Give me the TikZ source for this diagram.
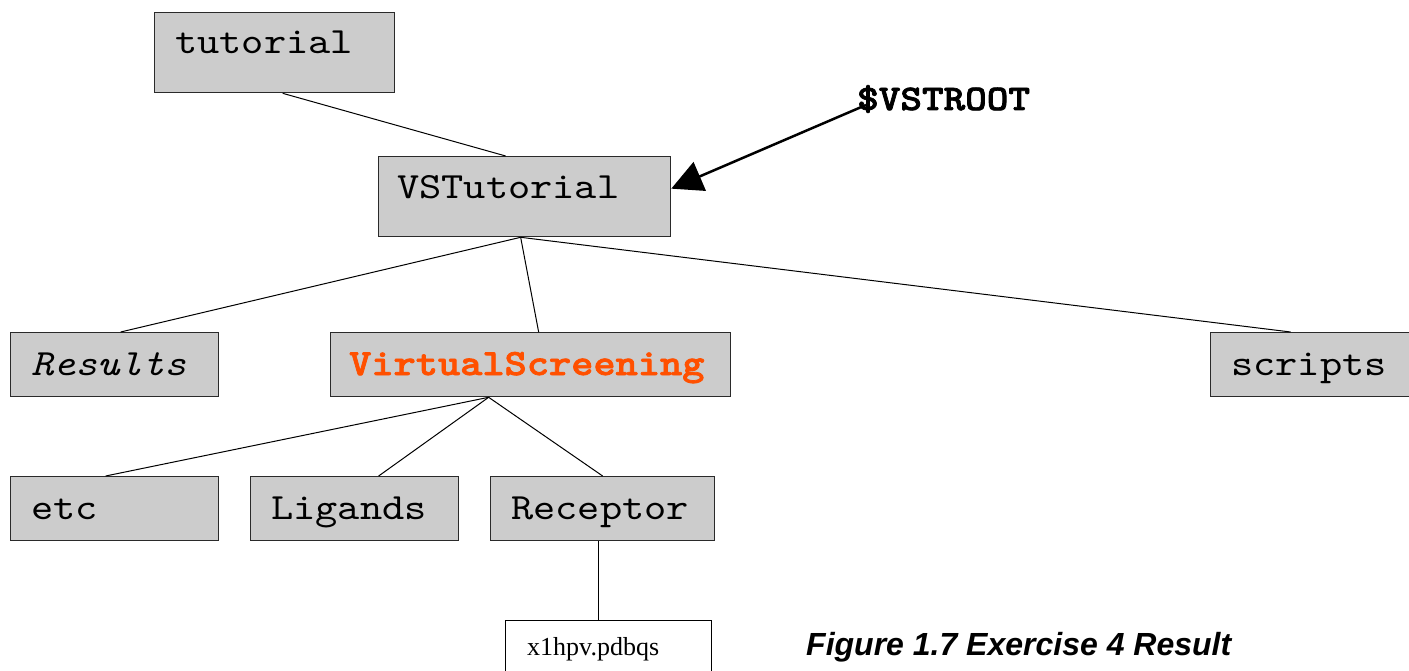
\documentclass[tikz,border=0pt]{standalone}
\usepackage{fontspec}
\setmainfont{Liberation Serif}
\newfontfamily\dirfont{lmmono10-regular.otf}[FakeStretch=1.143, ItalicFont=lmmono10-italic.otf]
\newfontfamily\dirbold{lmmonolt10-bold.otf}[FakeStretch=1.143, FakeBold=2]
\newfontfamily\capfont{Liberation Sans}
\usetikzlibrary{arrows.meta,calc}
\definecolor{boxgray}{HTML}{CCCCCC}
\definecolor{boxline}{HTML}{2A2A2A}
\definecolor{vsorange}{HTML}{FF5000}
\tikzset{
  dirbox/.style={draw=boxline, fill=boxgray, line width=1.3pt, anchor=north west, inner sep=0pt},
  filebox/.style={draw=black, fill=white, line width=1.3pt, anchor=north west, inner sep=0pt},
  dirname/.style={anchor=base west, inner sep=0pt, font=\dirfont\fontsize{37}{40}\selectfont},
  link/.style={draw=black, line width=1pt},
}
\begin{document}
\begin{tikzpicture}[x=1pt, y=-1pt]
\useasboundingbox (0,0) rectangle (1409,671);
\clip (0,0) rectangle (1409,671);

% directory boxes
\node[dirbox, minimum width=240, minimum height=80] (tut) at (154,12) {};
\node[dirbox, minimum width=292, minimum height=80] (vst) at (378,156) {};
\node[dirbox, minimum width=208, minimum height=64] (res) at (10,332) {};
\node[dirbox, minimum width=400, minimum height=64] (vs) at (330,332) {};
\node[dirbox, minimum width=210, minimum height=64] (scr) at (1210,332) {};
\node[dirbox, minimum width=208, minimum height=64] (etc) at (10,476) {};
\node[dirbox, minimum width=208, minimum height=64] (lig) at (250,476) {};
\node[dirbox, minimum width=224, minimum height=64] (rec) at (490,476) {};
\node[filebox, minimum width=206, minimum height=70] (pdb) at (505,620) {};

% box labels
\node[dirname] (tutT) at (175,54) {tutorial};
\node[dirname] (vstT) at (397,199) {VSTutorial};
\node[dirname, font=\dirfont\itshape\fontsize{37}{40}\selectfont] (resT) at (31,375) {Results};
\node[dirname, font=\dirbold\fontsize{37}{40}\selectfont, text=vsorange] (vsT) at (349,375) {VirtualScreening};
\node[dirname] (scrT) at (1231,375) {scripts};
\node[dirname] (etcT) at (31,519) {etc};
\node[dirname] (ligT) at (271,519) {Ligands};
\node[dirname] (recT) at (511,519) {Receptor};
\node[anchor=base west, inner sep=0pt, font=\rmfamily\fontsize{26}{30}\selectfont] (pdbT) at (527,655) {x1hpv.pdbqs};

% tree links
\draw[link] ([xshift=8pt]tut.south) -- ([xshift=-19pt]vst.north);
\draw[link] ([xshift=-4pt]vst.south) -- ([xshift=6pt]res.north);
\draw[link] ([xshift=-4pt]vst.south) -- ([xshift=8pt]vs.north);
\draw[link] ([xshift=-4pt]vst.south) -- ([xshift=-25pt]scr.north);
\draw[link] ([xshift=-42pt]vs.south) -- ([xshift=-9pt]etc.north);
\draw[link] ([xshift=-42pt]vs.south) -- ([xshift=24pt]lig.north);
\draw[link] ([xshift=-42pt]vs.south) -- (rec.north);
\draw[link] ([xshift=-4pt]rec.south) -- ([xshift=-10pt]pdb.north);

% root pointer
\node[anchor=base west, inner sep=0pt, font=\dirbold\fontsize{36}{40}\selectfont] (root) at (857,110) {\$VSTROOT};
\draw[line width=2.5pt, -{Triangle[length=31pt, width=31pt]}]
  ([shift={(9pt,5pt)}]root.base west) -- ([yshift=8pt]vst.east);

% caption
\node[anchor=base west, inner sep=0pt, font=\capfont\bfseries\itshape\fontsize{32}{36}\selectfont] (cap) at (806,655) {Figure 1.7 Exercise 4 Result};
\end{tikzpicture}
\end{document}
